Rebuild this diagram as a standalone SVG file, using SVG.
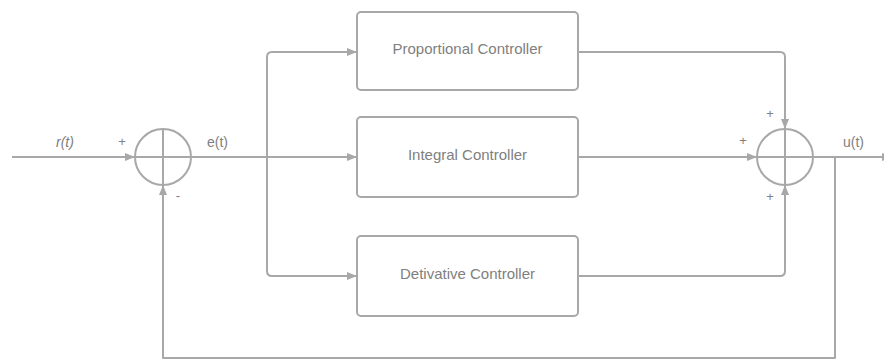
<svg xmlns="http://www.w3.org/2000/svg" width="884" height="363" viewBox="0 0 884 363">
  <style>
    .ln { fill: none; stroke: #a8a8a8; stroke-width: 2; stroke-linejoin: round; }
    .box { fill: #ffffff; stroke: #a8a8a8; stroke-width: 2; }
    .lbl { font-family: "Liberation Sans", Arial, sans-serif; font-size: 15px; fill: #808080; text-anchor: middle; }
    .sig { font-family: "Liberation Sans", Arial, sans-serif; font-size: 14px; fill: #808080; }
    .sgn { font-family: "Liberation Sans", Arial, sans-serif; font-size: 13px; fill: #808080; text-anchor: middle; }
  </style>
  <defs>
    <marker id="arr" viewBox="0 0 10 8" refX="10" refY="4" markerWidth="10" markerHeight="8" markerUnits="userSpaceOnUse" orient="auto">
      <path d="M0,0 L10,4 L0,8 Z" fill="#a8a8a8"/>
    </marker>
  </defs>

  <g id="connectors">
    <!-- input r(t) into summing junction -->
    <path class="ln" d="M12,157 H135" marker-end="url(#arr)"/>
    <!-- e(t) out to branch -->
    <path class="ln" d="M191,157 H357" marker-end="url(#arr)"/>
    <!-- branch to proportional and derivative -->
    <path class="ln" d="M267,157 V57 Q267,52 272,52 H357" marker-end="url(#arr)"/>
    <path class="ln" d="M267,157 V271 Q267,276 272,276 H357" marker-end="url(#arr)"/>
    <!-- controller outputs to output summer -->
    <path class="ln" d="M578,52 H780 Q785,52 785,57 V129" marker-end="url(#arr)"/>
    <path class="ln" d="M578,157 H757" marker-end="url(#arr)"/>
    <path class="ln" d="M578,276 H780 Q785,276 785,271 V185" marker-end="url(#arr)"/>
    <!-- output u(t) -->
    <path class="ln" d="M813,157 H892" marker-end="url(#arr)"/>
    <!-- feedback path -->
    <path class="ln" d="M835,157 V358 H163 V185" marker-end="url(#arr)"/>
  </g>

  <g id="sum-error">
    <circle class="ln" cx="163" cy="157" r="28"/>
    <path class="ln" d="M135,157 H191 M163,129 V185"/>
  </g>

  <g id="sum-output">
    <circle class="ln" cx="785" cy="157" r="28"/>
    <path class="ln" d="M757,157 H813 M785,129 V185"/>
  </g>

  <g id="proportional">
    <rect class="box" x="357" y="12" width="221" height="78" rx="4"/>
    <text class="lbl" x="467.5" y="54">Proportional Controller</text>
  </g>

  <g id="integral">
    <rect class="box" x="357" y="117" width="221" height="80" rx="4"/>
    <text class="lbl" x="467.5" y="160">Integral Controller</text>
  </g>

  <g id="derivative">
    <rect class="box" x="357" y="236" width="221" height="80" rx="4"/>
    <text class="lbl" x="467.5" y="279">Detivative Controller</text>
  </g>

  <g id="labels">
    <text class="sig" x="56" y="147" font-style="italic">r(t)</text>
    <text class="sig" x="207" y="147">e(t)</text>
    <text class="sig" x="843" y="147">u(t)</text>
    <text class="sgn" x="122" y="146">+</text>
    <text class="sgn" x="178" y="200">-</text>
    <text class="sgn" x="770" y="118">+</text>
    <text class="sgn" x="743" y="145">+</text>
    <text class="sgn" x="770" y="201">+</text>
  </g>
</svg>
